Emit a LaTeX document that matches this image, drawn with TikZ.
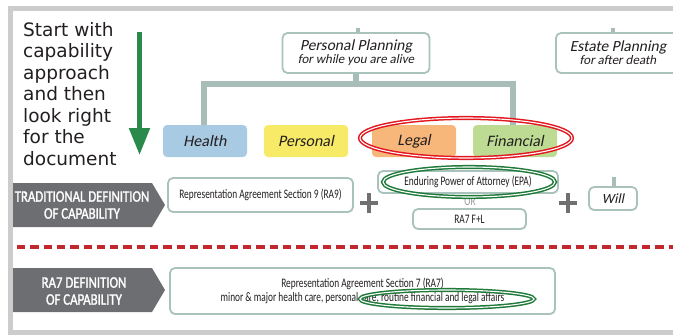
\documentclass[tikz,border=0pt]{standalone}
\usepackage{fontspec}
\setmainfont{Carlito}
\newfontfamily\leftfont{DejaVu Sans}
\newfontfamily\itfont[FakeSlant=0.2]{Carlito}
\newfontfamily\condfont[FakeStretch=0.72]{Carlito}
\newfontfamily\lblfont[FakeStretch=0.8,FakeBold=1.5]{Carlito}
\usetikzlibrary{shapes.geometric,arrows.meta}
\pgfdeclarelayer{bg}
\pgfsetlayers{bg,main}
\definecolor{framegray}{HTML}{CCCCCC}
\definecolor{linkc}{HTML}{A8BDB8}
\definecolor{boxline}{HTML}{A9C3BC}
\definecolor{labelc}{HTML}{6D6E71}
\definecolor{healthc}{HTML}{A8CAE3}
\definecolor{personalc}{HTML}{F7EA66}
\definecolor{legalc}{HTML}{F8B77A}
\definecolor{finc}{HTML}{BDDB93}
\definecolor{redc}{HTML}{E3161F}
\definecolor{redd}{HTML}{C1272D}
\definecolor{greenc}{HTML}{1F7A3A}
\definecolor{arrowc}{HTML}{2A8A4B}
\definecolor{plusc}{HTML}{707070}
\definecolor{txt}{HTML}{231F20}
\definecolor{orc}{HTML}{9A9A9A}
\begin{document}
\begin{tikzpicture}[x=1pt,y=-1pt,
  box/.style={draw=boxline, line width=1.8pt, rounded corners=5pt, fill=white, inner sep=0pt, text=txt},
  cat/.style={rounded corners=4pt, minimum width=84pt, minimum height=32pt, inner sep=0pt, font=\itfont\fontsize{16}{18}\selectfont, text=txt},
  link/.style={draw=linkc, line width=5.5pt},
  stub/.style={draw=linkc, line width=4pt},
  cond/.style={font=\condfont\fontsize{13}{14}\selectfont},
  lbl/.style={font=\lblfont\fontsize{16}{17}\selectfont, text=white, align=center, inner sep=0pt},
  ring/.style={ellipse, double=white, double distance=1.1pt, line width=1.5pt, inner sep=0pt},
  plussign/.style={draw=plusc, line width=4pt}]
\useasboundingbox (0,0) rectangle (673,335);
% frame
\draw[framegray, line width=5pt] (10.5,8.5) rectangle (690,332);
% intro text
\node[anchor=north west, inner sep=0pt, align=left, font=\leftfont\fontsize{18.5}{21.5}\selectfont, text=txt] (intro) at (23,22)
  {Start with\\capability\\approach\\and then\\look right\\for the\\document};
% green arrow
\coordinate (arrtop) at (139.5,32);
\coordinate (arrtip) at (139.5,155);
\draw[arrowc, line width=5pt, -{Triangle[width=20pt,length=27pt]}] (arrtop) -- (arrtip);
% planning boxes
\coordinate (ppstub) at (358,28);
\coordinate (epstub) at (613,28);
\node[box, minimum width=147pt, minimum height=40pt, align=center, font=\itfont] (pp) at (356,53)
  {{\fontsize{15.5}{15.5}\selectfont Personal Planning}\\[1pt]{\fontsize{13}{13}\selectfont for while you are alive}};
\node[box, minimum width=124pt, minimum height=40pt, align=center, font=\itfont] (ep) at (618,53)
  {{\fontsize{15.5}{15.5}\selectfont Estate Planning}\\[1pt]{\fontsize{13}{13}\selectfont for after death}};
\begin{pgfonlayer}{bg}
\draw[stub] (ppstub) -- (ppstub |- pp.north);
\draw[stub] (epstub) -- (epstub |- ep.north);
\end{pgfonlayer}
% categories
\node[cat, fill=healthc] (health) at (205,141) {Health};
\node[cat, fill=personalc] (personal) at (306,141) {Personal};
\node[cat, fill=legalc] (legal) at (414,141) {Legal};
\node[cat, fill=finc] (fin) at (515,141) {Financial};
\begin{pgfonlayer}{bg}
\draw[link] (pp.south) -- ++(0,10) -| ([xshift=-1pt]health.north);
\draw[link] (pp.south) ++(0,10) -| ([xshift=-2pt]fin.north);
\end{pgfonlayer}
\node[ring, draw=redc, minimum width=212pt, minimum height=40pt] (redring) at (466,138) {};
% traditional label
\fill[labelc] (13,183) -- (152,183) -- (165,205) -- (152,227) -- (13,227) -- cycle;
\node[lbl] (tradlbl) at (82,205) {TRADITIONAL DEFINITION\\OF CAPABILITY};
\node[box, cond, minimum width=185pt, minimum height=34pt] (ra9) at (260.5,195) {Representation Agreement Section 9 (RA9)};
\coordinate (plusa) at (369,203);
\draw[plussign] (plusa) +(-9,0) -- +(9,0) (plusa) +(0,-10) -- +(0,10);
\node[font=\condfont\fontsize{13}{14}\selectfont, text=orc, inner sep=0pt] (ortext) at (470,201) {OR};
\node[box, cond, minimum width=180pt, minimum height=22pt] (epa) at (468,182) {Enduring Power of Attorney (EPA)};
\node[box, cond, minimum width=113pt, minimum height=20pt] (rafl) at (469.5,219) {RA7 F+L};
\node[ring, draw=greenc, minimum width=172pt, minimum height=30pt] (epring) at (469,182) {};
\coordinate (plusb) at (567.5,203);
\draw[plussign] (plusb) +(-9,0) -- +(9,0) (plusb) +(0,-10) -- +(0,10);
\coordinate (willstub) at (614,177);
\node[box, minimum width=48pt, minimum height=23pt, font=\itfont\fontsize{14}{15}\selectfont] (will) at (613,198.5) {Will};
\begin{pgfonlayer}{bg}
\draw[stub] (willstub) -- (willstub |- will.north);
\end{pgfonlayer}
% dashed separator
\coordinate (dl) at (17,247);
\coordinate (dr) at (673,247);
\draw[redd, line width=4pt, dash pattern=on 8.3pt off 5pt] (dl) -- (dr);
% RA7 label
\fill[labelc] (13,268) -- (152,268) -- (165,290) -- (152,312) -- (13,312) -- cycle;
\node[lbl] (ra7lbl) at (84,291) {RA7 DEFINITION\\OF CAPABILITY};
\node[box, cond, minimum width=385pt, minimum height=46pt, align=center] (ra7) at (362.5,291)
  {Representation Agreement Section 7 (RA7)\\minor \& major health care, personal care, routine financial and legal affairs};
\node[ring, draw=greenc, minimum width=174pt, minimum height=18pt] (ra7ring) at (447,299) {};
\end{tikzpicture}
\end{document}
